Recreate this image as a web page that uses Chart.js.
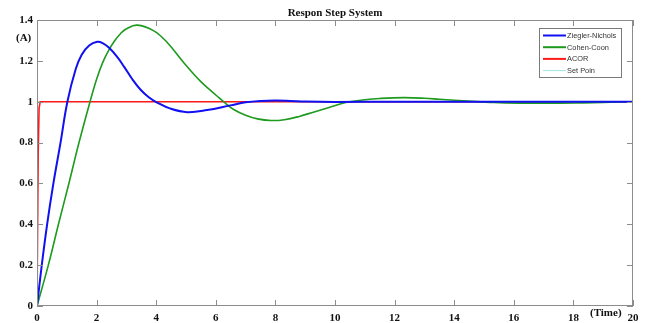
<!DOCTYPE html>
<html>
<head>
<meta charset="utf-8">
<script src="https://cdn.jsdelivr.net/npm/chart.js@4"></script>
<style>
  html, body { margin: 0; padding: 0; background: #fff; }
  #wrap { width: 650px; height: 323px; }
</style>
</head>
<body>
<div id="wrap"><canvas id="chart" width="650" height="323"></canvas></div>
<script>
// data
const znTime = [0, 0.16, 0.34, 0.55, 0.79, 1.02, 1.3, 1.5, 1.75, 2.02, 2.2, 2.41, 2.69, 2.92, 3.2, 3.47, 3.75, 4.03, 4.48, 5.04, 5.71, 6.49, 7.0, 7.5, 8.0, 8.5, 9.0, 10, 12, 14, 16, 18, 20];
const znValues = [0, 0.2, 0.4, 0.6, 0.8, 1.0, 1.16, 1.23, 1.275, 1.293, 1.287, 1.265, 1.22, 1.172, 1.11, 1.06, 1.022, 0.996, 0.966, 0.949, 0.959, 0.982, 0.997, 1.004, 1.006, 1.004, 1.001, 0.999, 1.0, 1.0, 1.0, 1.0, 1.0];

const ccTime = [0, 0.38, 0.72, 1.07, 1.41, 1.78, 2.0, 2.2, 2.4, 2.6, 2.8, 3.0, 3.36, 3.92, 4.37, 4.92, 5.48, 6.04, 6.26, 6.6, 7.0, 7.4, 7.85, 8.3, 8.8, 9.3, 9.8, 10.2, 10.5, 11, 11.5, 12.3, 13, 13.5, 14, 14.6, 15.2, 15.7, 17, 18.1, 19, 20];
const ccValues = [0, 0.2, 0.4, 0.6, 0.8, 1.0, 1.11, 1.19, 1.25, 1.297, 1.333, 1.357, 1.375, 1.347, 1.29, 1.192, 1.101, 1.028, 1.0, 0.962, 0.934, 0.916, 0.908, 0.912, 0.928, 0.95, 0.972, 0.99, 1.0, 1.01, 1.016, 1.02, 1.017, 1.012, 1.007, 1.002, 0.997, 0.994, 0.993, 0.994, 0.997, 1.0];

const acorTime = [0, 0.04, 0.07, 0.11, 20];
const acorValues = [0, 0.75, 0.97, 1.0, 1.0];

const spTime = [0, 20];
const spValues = [1, 1];

const seriesNames = ['Ziegler-Nichols', 'Cohen-Coon', 'ACOR', 'Set Poin'];
const seriesColors = ['#1010f0', '#1e9a1e', '#ff1a1a', '#9fe3e3'];

const xTicks = [0, 2, 4, 6, 8, 10, 12, 14, 16, 18, 20];
const yTicks = [0, 0.2, 0.4, 0.6, 0.8, 1, 1.2, 1.4];

const toPoints = (t, v) => t.map((x, i) => ({ x: x, y: v[i] }));

const tickFont = { family: 'Liberation Serif', size: 11, weight: 'bold' };

// frame, inward ticks, title, axis labels and legend
const framePlugin = {
    id: 'frame',
    afterDraw(chart) {
        const ctx = chart.ctx;
        const a = chart.chartArea;
        const x = chart.scales.x;
        const y = chart.scales.y;
        ctx.save();
        ctx.strokeStyle = '#8c8c8c';
        ctx.lineWidth = 1;
        ctx.strokeRect(Math.round(a.left) + 0.5, Math.round(a.top) + 0.5,
            Math.round(a.width) - 1, Math.round(a.height) - 1);
        ctx.beginPath();
        xTicks.forEach(v => {
            const px = Math.round(x.getPixelForValue(v)) + 0.5;
            ctx.moveTo(px, a.bottom); ctx.lineTo(px, a.bottom - 6);
            ctx.moveTo(px, a.top); ctx.lineTo(px, a.top + 6);
        });
        yTicks.forEach(v => {
            const py = Math.round(y.getPixelForValue(v)) + 0.5;
            ctx.moveTo(a.left, py); ctx.lineTo(a.left + 6, py);
            ctx.moveTo(a.right, py); ctx.lineTo(a.right - 6, py);
        });
        ctx.stroke();

        ctx.fillStyle = '#111';
        ctx.font = 'bold 11px "Liberation Serif"';
        ctx.textAlign = 'center';
        ctx.textBaseline = 'middle';
        ctx.fillText('Respon Step System', (a.left + a.right) / 2, 13);
        ctx.textAlign = 'left';
        ctx.fillText('(A)', 16, 38);
        ctx.fillText('(Time)', 590, 313);

        // legend
        const lx = 539, ly = 28, lw = 82, lh = 49;
        ctx.fillStyle = '#fff';
        ctx.fillRect(lx, ly, lw, lh);
        ctx.strokeStyle = '#7a7a7a';
        ctx.strokeRect(lx + 0.5, ly + 0.5, lw, lh);
        ctx.font = '7.4px "Liberation Sans"';
        seriesNames.forEach((name, i) => {
            const ry = ly + 7.5 + i * 11.7;
            ctx.strokeStyle = seriesColors[i];
            ctx.lineWidth = i === 3 ? 1 : 2;
            ctx.beginPath();
            ctx.moveTo(lx + 4, ry); ctx.lineTo(lx + 27, ry);
            ctx.stroke();
            ctx.fillStyle = '#333';
            ctx.fillText(name, lx + 28, ry + 0.5);
        });
        ctx.restore();
    }
};

new Chart(document.getElementById('chart'), {
    type: 'line',
    data: {
        datasets: [
            { label: seriesNames[0], data: toPoints(znTime, znValues), borderColor: seriesColors[0], borderWidth: 2, tension: 0.4 },
            { label: seriesNames[1], data: toPoints(ccTime, ccValues), borderColor: seriesColors[1], borderWidth: 1.6, tension: 0.4 },
            { label: seriesNames[2], data: toPoints(acorTime, acorValues), borderColor: seriesColors[2], borderWidth: 1.6, tension: 0 },
            { label: seriesNames[3], data: toPoints(spTime, spValues), borderColor: seriesColors[3], borderWidth: 1, tension: 0 }
        ]
    },
    options: {
        responsive: false,
        animation: false,
        devicePixelRatio: 1,
        elements: { point: { radius: 0 } },
        layout: { padding: { left: 0, right: 17, top: 20, bottom: 0 } },
        plugins: {
            legend: { display: false },
            tooltip: { enabled: false },
            title: { display: false }
        },
        scales: {
            x: {
                type: 'linear',
                min: 0,
                max: 20,
                afterBuildTicks: s => { s.ticks = xTicks.map(v => ({ value: v })); },
                afterFit: s => { s.height = 17; },
                grid: { display: false, drawTicks: false },
                border: { display: false },
                ticks: {
                    padding: 6,
                    color: '#111',
                    font: tickFont,
                    maxRotation: 0,
                    autoSkip: false,
                    callback: v => String(v)
                }
            },
            y: {
                type: 'linear',
                min: 0,
                max: 1.4,
                afterBuildTicks: s => { s.ticks = yTicks.map(v => ({ value: v })); },
                afterFit: s => { s.width = 37; },
                grid: { display: false, drawTicks: false },
                border: { display: false },
                ticks: {
                    padding: 4,
                    color: '#111',
                    font: tickFont,
                    autoSkip: false,
                    callback: v => String(+v.toFixed(1))
                }
            }
        }
    },
    plugins: [framePlugin]
});
</script>
</body>
</html>
